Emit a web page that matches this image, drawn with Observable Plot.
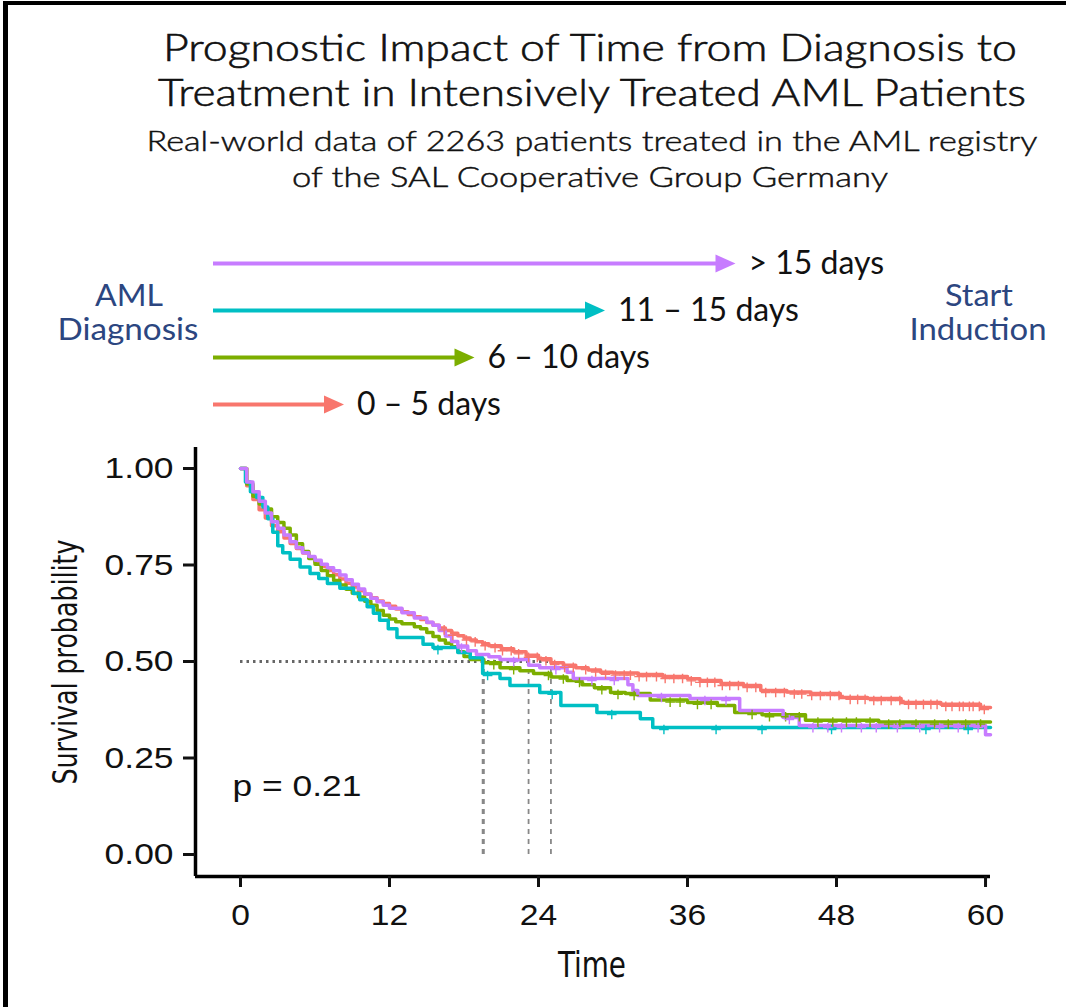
<!DOCTYPE html>
<html><head><meta charset="utf-8">
<script src="https://cdn.jsdelivr.net/npm/d3@7"></script>
<script src="https://cdn.jsdelivr.net/npm/@observablehq/plot@0.6"></script>
<style>
html,body{margin:0;padding:0;background:#fff;}
#root{position:relative;width:1066px;height:1007px;overflow:hidden;background:#fff;}
#root > svg, #root > div{position:absolute;}
</style></head><body><div id="root"></div>
<script>
// ---------------- data ----------------
const groups = ["0 – 5 days", "6 – 10 days", "11 – 15 days", "> 15 days"];
const colors = ["#F8766D", "#7CAE00", "#00BFC4", "#C77CFF"];
const arrowDays = [5, 10, 15, 20];   // legend arrow length (days from diagnosis)

const titleLines = ["Prognostic Impact of Time from Diagnosis to", "Treatment in Intensively Treated AML Patients"];
const subtitleLines = ["Real-world data of 2263 patients treated in the AML registry", "of the SAL Cooperative Group Germany"];
const leftLabel = ["AML", "Diagnosis"];
const rightLabel = ["Start", "Induction"];
const yLabel = "Survival probability";
const xLabel = "Time";
const pLabel = "p = 0.21";

const xTicks = [0, 12, 24, 36, 48, 60];
const yTicks = [0, 0.25, 0.5, 0.75, 1];

// Kaplan-Meier step points [time (months), survival]
const kmRed = [[0,1],[0.5,0.955],[1,0.92],[1.5,0.893],[2,0.872],[2.5,0.852],[3,0.836],[3.5,0.82],[4,0.806],[4.5,0.793],[5,0.781],[5.5,0.769],[6,0.758],[6.5,0.747],[7,0.736],[7.5,0.725],[8,0.714],[8.5,0.703],[9,0.693],[9.5,0.683],[10,0.674],[10.5,0.665],[11,0.657],[11.5,0.65],[12,0.643],[12.5,0.636],[13,0.629],[13.5,0.622],[14,0.616],[14.5,0.609],[15,0.601],[15.5,0.594],[16,0.587],[16.5,0.58],[17,0.573],[17.5,0.567],[18,0.561],[18.5,0.556],[19,0.551],[19.5,0.546],[20,0.541],[21,0.533],[22,0.525],[23,0.516],[24,0.507],[25,0.497],[26,0.49],[27,0.484],[28,0.478],[29,0.472],[30,0.47],[32,0.466],[34,0.461],[36,0.455],[37,0.451],[38.7,0.443],[40.5,0.438],[41.9,0.425],[44,0.421],[45.9,0.417],[48.3,0.407],[50.5,0.404],[53.2,0.394],[56.4,0.389],[59.6,0.381],[60.4,0.381]];
const kmGreen = [[0,1],[0.5,0.96],[1,0.928],[1.5,0.908],[2,0.895],[2.5,0.875],[3,0.86],[3.5,0.845],[4,0.828],[4.5,0.805],[5,0.785],[5.5,0.767],[6,0.752],[6.5,0.736],[7,0.722],[7.5,0.71],[8,0.698],[8.5,0.687],[9,0.677],[9.5,0.667],[10,0.656],[10.5,0.646],[11,0.632],[11.5,0.62],[12,0.61],[12.5,0.603],[13,0.598],[14,0.59],[14.5,0.585],[15,0.575],[15.5,0.565],[16,0.556],[16.5,0.547],[17,0.538],[17.5,0.525],[18,0.513],[18.5,0.505],[19.6,0.497],[20.9,0.484],[22.5,0.476],[23.6,0.469],[25,0.46],[26.3,0.451],[27.5,0.44],[28.5,0.432],[29.8,0.42],[31,0.417],[33,0.4],[36,0.394],[38.4,0.386],[39.8,0.368],[42,0.362],[45.5,0.348],[51.4,0.343],[60.4,0.343]];
const kmCyan = [[0,1],[0.4,0.965],[0.8,0.94],[1.3,0.925],[1.8,0.9],[2.2,0.87],[2.6,0.835],[3,0.8],[3.4,0.782],[4,0.765],[4.8,0.745],[5.6,0.728],[6.3,0.715],[7,0.702],[8,0.69],[9.1,0.676],[9.6,0.66],[10.2,0.642],[10.7,0.625],[11.2,0.607],[11.9,0.585],[12.6,0.562],[14.7,0.545],[15.5,0.536],[17.5,0.523],[18.5,0.51],[19.5,0.469],[20.9,0.456],[21.7,0.438],[24.1,0.42],[25.8,0.386],[28.7,0.368],[32.2,0.352],[33.2,0.329],[60.4,0.329]];
const kmPurple = [[0,1],[0.5,0.965],[1,0.94],[1.5,0.915],[2,0.885],[2.5,0.862],[3,0.845],[3.5,0.828],[4,0.81],[4.5,0.795],[5,0.782],[5.5,0.772],[6,0.762],[6.5,0.752],[7,0.743],[7.5,0.735],[8,0.724],[8.5,0.712],[9,0.7],[9.5,0.688],[10,0.675],[10.5,0.664],[11,0.655],[11.5,0.646],[12,0.638],[13,0.626],[14,0.613],[15,0.602],[15.5,0.594],[16,0.58],[16.5,0.566],[17,0.552],[17.5,0.54],[18.3,0.528],[19,0.518],[20,0.512],[20.9,0.505],[23.2,0.49],[24.1,0.484],[26.3,0.472],[26.8,0.456],[31.2,0.44],[31.6,0.425],[32,0.412],[36.2,0.404],[40.2,0.373],[43.7,0.355],[45,0.334],[60,0.31],[60.4,0.31]];

// censoring times (months)
const censRed = [16.4,17.1,18.2,18.9,19.7,20.5,21.1,21.8,22.4,23.2,23.9,24.6,25.3,26.1,26.8,27.8,28.6,29.4,30.2,30.9,31.4,32.1,32.7,33.5,34.2,34.9,35.6,36.3,37.0,37.6,38.2,38.8,39.4,40.1,40.8,41.5,42.3,43.1,43.8,44.6,45.2,46.0,46.7,47.5,48.2,49.1,49.7,50.3,51.0,51.6,52.4,53.1,53.8,54.4,55.0,55.6,56.1,56.8,57.3,57.9,58.2,58.7,59.0,59.5,59.9];
const censGreen = [20.4,22.0,24.8,26.0,27.3,29.1,30.4,31.7,34.6,35.4,36.8,37.9,41.2,42.6,43.9,45.0,46.5,47.7,48.8,49.6,50.7,52.2,53.1,54.4,55.9,57.0,58.4,59.6];
const censCyan = [15.9,19.9,25.1,29.9,34.1,38.3,42.0,47.6,55.2,58.6];
const censPurple = [17.8,22.0,25.4,28.3,30.1,33.9,37.4,39.1,44.2,46.1,47.3,48.4,50.0,51.2,52.9,54.7,56.3,57.8,59.4];

// median survival times (months)
const medians = [25.0, 19.6, 19.5, 23.2];

// ---------------- build tables ----------------
const kmSeries = [kmRed, kmGreen, kmCyan, kmPurple];
const censSeries = [censRed, censGreen, censCyan, censPurple];
const km = groups.flatMap((g, i) => kmSeries[i].map(([t, s]) => ({group: g, t, s})));
const survAt = (series, t) => { let s = series[0][1]; for (const [tt, ss] of series) { if (tt <= t) s = ss; else break; } return s; };
const cens = groups.flatMap((g, i) => censSeries[i].map(t => ({group: g, t, s: survAt(kmSeries[i], t)})));
const medianData = groups.map((g, i) => ({group: g, t: medians[i]}));
const legendData = groups.map((g, i) => ({group: g, days: arrowDays[i]}));

const root = document.getElementById("root");

// frame lines of the figure
const bl = document.createElement("div");
bl.style.cssText = "left:3px;top:1px;width:5px;height:1006px;background:#000;";
root.appendChild(bl);
const bt = document.createElement("div");
bt.style.cssText = "left:3px;top:1px;width:1063px;height:4px;background:#000;";
root.appendChild(bt);

// stretch helper for wide-set labels
function stretch(nodes, k) {
  nodes.forEach(t => {
    const w = t.getComputedTextLength();
    t.setAttribute("textLength", (w * k).toFixed(1));
    t.setAttribute("lengthAdjust", "spacingAndGlyphs");
  });
}

// ---------------- legend (arrows) ----------------
const headShape = {draw(ctx) { ctx.moveTo(0, 0); ctx.lineTo(-20, -9); ctx.lineTo(-20, 9); ctx.closePath(); }};
const legend = Plot.plot({
  width: 1066, height: 200,
  margin: 0,
  x: {domain: [0, 20], range: [213, 735], axis: null},
  y: {type: "point", padding: 0, domain: groups.slice().reverse(), range: [32, 174], axis: null},
  color: {domain: groups, range: colors},
  style: {fontFamily: "Lato, 'Open Sans', sans-serif", background: "transparent"},
  marks: [
    Plot.ruleY(legendData, {y: "group", x1: 0, x2: "days", stroke: "group", strokeWidth: 4, insetRight: 12}),
    Plot.dot(legendData, {x: "days", y: "group", symbol: headShape, fill: "group", stroke: null}),
    Plot.text(legendData, {x: "days", y: "group", text: "group", dx: 13, textAnchor: "start", fontSize: 32, fill: "#111"})
  ]
});
legend.style.left = "0px"; legend.style.top = "230px";
root.appendChild(legend);

// ---------------- main chart ----------------
const xDomain = [-3.624, 60.4];
const yDomain = [-0.057, 1.0544];
const chart = Plot.plot({
  width: 1066, height: 577,
  marginLeft: 195, marginRight: 76, marginTop: 17, marginBottom: 131,
  x: {domain: xDomain},
  y: {domain: yDomain},
  color: {domain: groups, range: colors},
  style: {fontFamily: "'Liberation Sans', Arial, sans-serif", background: "transparent", color: "#111"},
  marks: [
    Plot.ruleY([0.5], {x1: 0, x2: d3.max(medians), stroke: "#666", strokeWidth: 2.8, strokeDasharray: "2.5,4"}),
    Plot.ruleX(medianData, {x: "t", y1: 0, y2: 0.5, stroke: "#888", strokeWidth: 1.8, strokeDasharray: "5,5"}),
    Plot.line(km, {x: "t", y: "s", z: "group", stroke: "group", curve: "step-after", strokeWidth: 3.5}),
    Plot.dot(cens, {x: "t", y: "s", stroke: "group", symbol: "plus", r: 3.2, strokeWidth: 1.4, dy: 2}),
    Plot.text([pLabel], {frameAnchor: "bottom-left", dx: 37, dy: -81, fontSize: 30, textAnchor: "start", fill: "#111"}),
    Plot.ruleX([xDomain[0]], {stroke: "#000", strokeWidth: 3.5}),
    Plot.ruleY([yDomain[0]], {stroke: "#000", strokeWidth: 3.5}),
    Plot.axisY({ticks: yTicks, tickFormat: d => d.toFixed(2), tickSize: 12, tickPadding: 10, strokeWidth: 3, fontSize: 30, label: null}),
    Plot.axisX({ticks: xTicks, tickFormat: d => String(d), tickSize: 11, tickPadding: 16, strokeWidth: 3, fontSize: 30, label: null})
  ]
});
chart.style.left = "0px"; chart.style.top = "430px";
root.appendChild(chart);
stretch(chart.querySelectorAll('g[aria-label="y-axis tick label"] text'), 1.18);
stretch(chart.querySelectorAll('g[aria-label="x-axis tick label"] text'), 1.12);
stretch(chart.querySelectorAll('g[aria-label="text"] text'), 1.18);

// ---------------- text overlay ----------------
const ov = d3.select(root).append("svg")
  .attr("width", 1066).attr("height", 1007)
  .style("left", "0px").style("top", "0px").style("pointer-events", "none");
function label(txt, x, y, size, len, family, fill, rotate, weight, sw) {
  const t = ov.append("text").text(txt)
    .attr("x", x).attr("y", y)
    .attr("text-anchor", "middle")
    .attr("font-size", size).attr("font-family", family).attr("fill", fill);
  if (weight) t.attr("font-weight", weight);
  if (sw) t.attr("stroke", fill).attr("stroke-width", sw);
  if (len) t.attr("textLength", len).attr("lengthAdjust", "spacingAndGlyphs");
  if (rotate) t.attr("transform", `rotate(${rotate},${x},${y})`);
  return t;
}
const sans = "Lato, 'Open Sans', sans-serif";
const narrow = "'Liberation Sans Narrow', 'DejaVu Sans Condensed', 'Roboto', sans-serif";
label(titleLines[0], 590, 61, 37, 854, sans, "#111", null, 300, 0.6);
label(titleLines[1], 592, 106, 37, 868, sans, "#111", null, 300, 0.6);
label(subtitleLines[0], 592, 151, 27, 891, sans, "#111", null, 300, 0.45);
label(subtitleLines[1], 590, 187, 27, 596, sans, "#111", null, 300, 0.45);
const navy = "#2c4680";
label(leftLabel[0], 129, 306, 30, 68, sans, navy);
label(leftLabel[1], 128, 340, 30, 141, sans, navy);
label(rightLabel[0], 979, 306, 30, 68, sans, navy);
label(rightLabel[1], 978, 340, 30, 137, sans, navy);
label(yLabel, 77, 662, 33, 245, narrow, "#111", -90);
label(xLabel, 592, 977, 35, 68, narrow, "#111");
</script>
</body></html>
